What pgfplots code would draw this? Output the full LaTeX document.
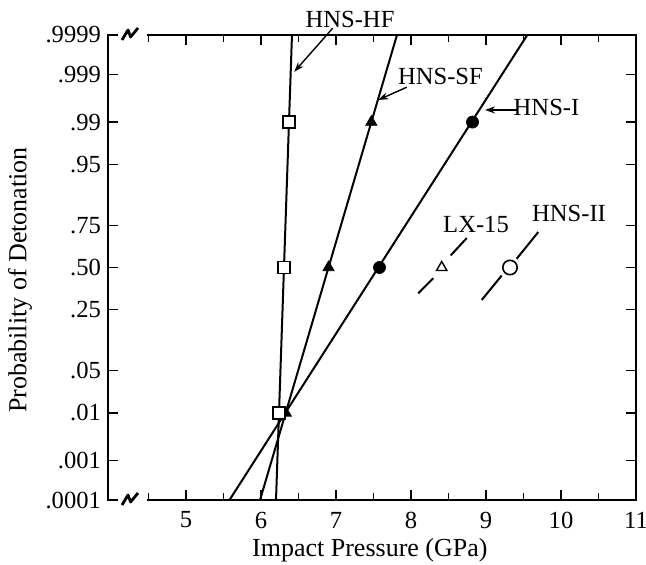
\documentclass[border=0pt]{standalone}
\usepackage{fontspec}
\setmainfont{Liberation Serif}
\usepackage{pgfplots}
\pgfplotsset{compat=1.18}
\usetikzlibrary{arrows.meta}
\newcommand{\lblfont}{\fontsize{12.3}{14}\selectfont}
\newcommand{\axfont}{\fontsize{13}{15}\selectfont}
\begin{document}
\begin{tikzpicture}
\useasboundingbox (-54pt,-32.5pt) rectangle (269pt,250pt);
\begin{axis}[
  scale only axis, width=264pt, height=232.5pt,
  at={(0,0)}, anchor=south west,
  xmin=3.96, xmax=11, ymin=-3.719, ymax=3.719,
  separate axis lines, axis line style={draw=none},
  clip=false,
  xtick={5,6,7,8,9,10,11}, xticklabels={5,6,7,8,9,10,11},
  minor xtick={4.5,5.5,6.5,7.5,8.5,9.5,10.5},
  ytick={-3.719,-3.090,-2.326,-1.645,-0.674,0,0.674,1.645,2.326,3.090,3.719},
  yticklabels={.0001,.001,.01,.05,.25,.50,.75,.95,.99,.999,.9999},
  major tick length=5pt, minor tick length=3.5pt,
  every tick/.style={black, line width=0.8pt},
  tick align=inside,
  tick label style={font=\lblfont},
  xticklabel style={anchor=center, yshift=-10pt},
  yticklabel style={anchor=east, xshift=0pt},
  xlabel={Impact Pressure (GPa)},
  ylabel={Probability of Detonation},
  label style={font=\axfont},
  xlabel style={at={(axis description cs:0.496,-0.1075)}, anchor=center},
  ylabel style={at={(axis description cs:-0.1667,0.473)}, anchor=center},
]
% frame
\draw[line width=0.9pt] (axis cs:4.48,-3.719) -- (axis cs:11,-3.719) -- (axis cs:11,3.719) -- (axis cs:4.48,3.719);
\draw[line width=0.9pt] (axis cs:4.027,-3.719) -- (axis cs:3.96,-3.719) -- (axis cs:3.96,3.719) -- (axis cs:4.027,3.719);
% lines
\addplot[black, line width=1pt] coordinates {(6.20,-3.719) (6.413,3.719)};
\addplot[black, line width=1pt] coordinates {(5.987,-3.719) (7.813,3.719)};
\addplot[black, line width=1pt] coordinates {(5.58,-3.719) (9.55,3.719)};
% LX-15 and HNS-II segments
\addplot[black, line width=1pt] coordinates {(8.097,-0.413) (8.297,-0.172)};
\addplot[black, line width=1pt] coordinates {(8.529,0.193) (8.743,0.470)};
\addplot[black, line width=1pt] coordinates {(8.943,-0.519) (9.209,-0.129)};
\addplot[black, line width=1pt] coordinates {(9.409,0.140) (9.697,0.567)};
% markers
\addplot[only marks, mark=*, mark size=3pt, mark options={fill=black}] coordinates {(7.58,0) (8.82,2.326)};
\addplot[only marks, mark=triangle*, mark size=3.2pt, mark options={fill=black}] coordinates {(7.471,2.326) (6.90,0) (6.33,-2.326)};
\addplot[only marks, mark=square*, mark size=3pt, mark options={fill=white, draw=black, line width=0.8pt}] coordinates {(6.373,2.326) (6.307,0) (6.24,-2.326)};
\addplot[only marks, mark=triangle*, mark size=3pt, mark options={fill=white, draw=black, line width=0.7pt}] coordinates {(8.409,0)};
\addplot[only marks, mark=*, mark size=3.6pt, mark options={fill=white, draw=black, line width=0.8pt}] coordinates {(9.32,0)};
% labels
\node[font=\lblfont] at (axis cs:7.187,3.965) {HNS-HF};
\node[font=\lblfont] at (axis cs:8.393,3.058) {HNS-SF};
\node[font=\lblfont] at (axis cs:9.807,2.557) {HNS-I};
\node[font=\lblfont] at (axis cs:8.867,0.69) {LX-15};
\node[font=\lblfont] at (axis cs:10.107,0.86) {HNS-II};
\draw[-{Stealth[length=5pt,width=3.5pt]}, line width=0.7pt] (axis cs:6.956,3.828) -- (axis cs:6.443,3.13);
\draw[-{Stealth[length=5pt,width=3.5pt]}, line width=0.7pt] (axis cs:7.943,2.884) -- (axis cs:7.564,2.680);
\draw[-{Stealth[length=5pt,width=3.5pt]}, line width=0.7pt] (axis cs:9.41,2.52) -- (axis cs:8.987,2.52);
\end{axis}
% axis break marks
\draw[line width=1.4pt, line join=round] (7pt,-2.5pt) -- (10pt,2.5pt) -- (11.3pt,-1pt) -- (15pt,3.5pt);
\draw[line width=1.4pt, line join=round] (7pt,230pt) -- (10pt,235pt) -- (11.3pt,231.5pt) -- (15pt,236pt);
\end{tikzpicture}
\end{document}
